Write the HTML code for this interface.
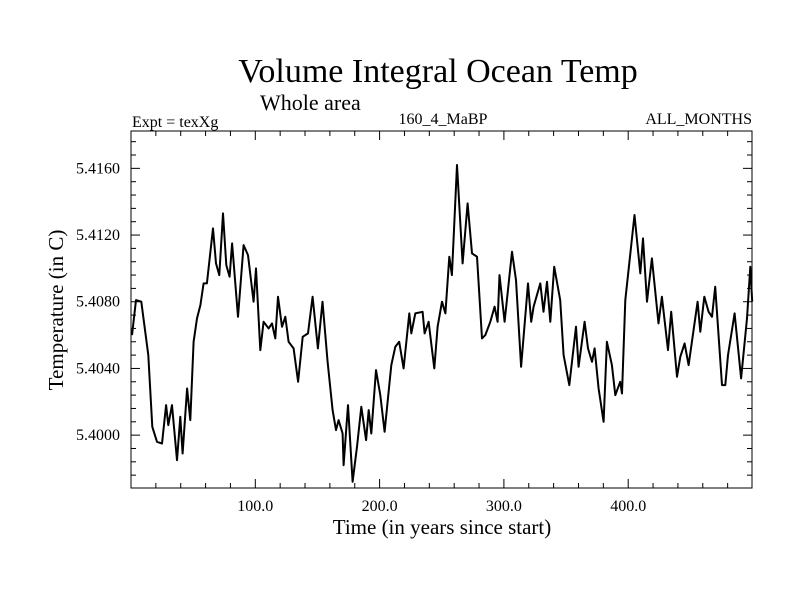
<!DOCTYPE html>
<html><head><meta charset="utf-8"><style>
body{margin:0;background:#fff}
svg text{font-family:"Liberation Serif",serif;fill:#000}
</style></head><body>
<svg id="chart" width="800" height="600" viewBox="0 0 800 600" xmlns="http://www.w3.org/2000/svg">
<text x="438" y="82" font-size="34" text-anchor="middle">Volume Integral Ocean Temp</text>
<text x="260" y="110" font-size="22">Whole area</text>
<text x="132" y="127" font-size="16">Expt = texXg</text>
<text x="443" y="124" font-size="16" text-anchor="middle">160_4_MaBP</text>
<text x="752" y="124" font-size="16" text-anchor="end">ALL_MONTHS</text>
<text x="442" y="534" font-size="21" text-anchor="middle">Time (in years since start)</text>
<text transform="translate(63,310) rotate(-90)" font-size="21" text-anchor="middle">Temperature (in C)</text>
<g id="axes"></g>
<path id="series" fill="none" stroke="#000" stroke-width="2" stroke-linejoin="round"/>
<rect x="131" y="131" width="621" height="357" fill="none" stroke="#000" stroke-width="1"/>
</svg>
<script>
const years=[0.8,4,8.3,13.9,17.1,20.9,24.9,28.2,30,33,37,39.7,41.5,45.1,47.7,50.4,53.1,55.8,58.4,61.1,66,68.4,71,74,76.7,79.3,81.3,86.1,90.6,94.1,98.6,100.6,104,106.7,110.7,113.4,116.1,118.3,121.5,124.1,126.8,130.8,134.4,138.1,142.4,146.1,150.4,154.1,158.2,162.2,164.9,167,170.2,171,174.6,178.3,181.8,185.3,189.1,191.2,193.3,197.1,200.6,204,209.4,212.6,215.8,219.3,223.9,225.5,228.7,234.6,236.2,239.4,244,246.7,250.2,252.9,256.1,258.2,262.3,266.8,270.8,274.3,278.4,282.4,285,289.1,292.5,294.9,296.5,300.6,306.5,309.7,313.8,319.4,322,323.9,329.3,331.9,334.7,337.3,340.5,345.3,348,352.6,358,360.1,364.9,367.7,370.9,373,376.2,380.2,382.9,386.9,389.6,393.6,395,397.7,405.1,409.7,411.9,415.1,419.1,424.4,427.1,432,434.6,439.3,441.9,445.4,448.6,455.8,458,461.2,464.7,467.4,470,475.5,478.1,480.3,485.6,490.8,495.6,498.2,499.8];
const temps=[5.4060,5.4081,5.4080,5.4048,5.4005,5.3996,5.3995,5.4018,5.4006,5.4018,5.3985,5.4011,5.3989,5.4028,5.4009,5.4056,5.4070,5.4078,5.4091,5.4091,5.4124,5.4103,5.4096,5.4133,5.4102,5.4095,5.4115,5.4071,5.4114,5.4108,5.4080,5.4100,5.4051,5.4068,5.4064,5.4067,5.4058,5.4083,5.4065,5.4071,5.4056,5.4052,5.4032,5.4059,5.4061,5.4083,5.4052,5.4080,5.4044,5.4015,5.4003,5.4009,5.4001,5.3982,5.4018,5.3972,5.3993,5.4017,5.3997,5.4015,5.4001,5.4039,5.4024,5.4002,5.4042,5.4053,5.4056,5.4040,5.4073,5.4061,5.4073,5.4074,5.4061,5.4068,5.4040,5.4065,5.4080,5.4073,5.4107,5.4096,5.4162,5.4103,5.4139,5.4109,5.4107,5.4058,5.4060,5.4068,5.4077,5.4068,5.4096,5.4068,5.4110,5.4093,5.4041,5.4091,5.4068,5.4077,5.4091,5.4074,5.4092,5.4068,5.4101,5.4081,5.4048,5.4030,5.4065,5.4041,5.4068,5.4052,5.4044,5.4052,5.4028,5.4008,5.4056,5.4042,5.4024,5.4032,5.4025,5.4081,5.4132,5.4097,5.4118,5.4080,5.4106,5.4067,5.4083,5.4051,5.4074,5.4035,5.4047,5.4055,5.4042,5.4080,5.4062,5.4083,5.4074,5.4071,5.4089,5.4030,5.4030,5.4048,5.4073,5.4034,5.4070,5.4101,5.4080];
const xTickLabels=["100.0","200.0","300.0","400.0"];
const xTickValues=[100,200,300,400];
const yTickLabels=["5.4000","5.4040","5.4080","5.4120","5.4160"];
const yTickValues=[5.4000,5.4040,5.4080,5.4120,5.4160];
const X0=131,X1=752,Y0=131,Y1=488,XMIN=0,XMAX=499.6,YMIN=5.39683,YMAX=5.41824;
function sx(v){return X0+(v-XMIN)/(XMAX-XMIN)*(X1-X0);}
function sy(v){return Y1-(v-YMIN)/(YMAX-YMIN)*(Y1-Y0);}
const NS="http://www.w3.org/2000/svg";
const axes=document.getElementById('axes');
function line(x1,y1,x2,y2,name){const l=document.createElementNS(NS,'line');l.setAttribute('x1',x1);l.setAttribute('y1',y1);l.setAttribute('x2',x2);l.setAttribute('y2',y2);l.setAttribute('stroke','#000');l.setAttribute('stroke-width','1');


axes.appendChild(l);}
function txt(x,y,s,anchor,name){const t=document.createElementNS(NS,'text');t.setAttribute('x',x);t.setAttribute('y',y);t.setAttribute('font-size','16');t.setAttribute('text-anchor',anchor);t.textContent=s;


axes.appendChild(t);}
for(let v=20;v<XMAX;v+=20){const x=sx(v);const major=Math.abs(v%100)<1e-6;const L=major?9:5;
line(x,Y1,x,Y1-L,'x-tick');line(x,Y0,x,Y0+L,'x-tick-top');}
for(let v=5.3976;v<YMAX;v+=0.0008){const y=sy(v);const major=Math.abs(Math.round(v*10000)%40)<1;const L=major?9:5;
line(X0,y,X0+L,y,'y-tick');line(X1,y,X1-L,y,'y-tick-right');}
xTickValues.forEach((v,i)=>txt(sx(v),511,xTickLabels[i],'middle','x-tick-label'));
yTickValues.forEach((v,i)=>txt(120,sy(v)+5,yTickLabels[i],'end','y-tick-label'));
document.getElementById('series').setAttribute('d',years.map((v,i)=>(i?'L':'M')+sx(v).toFixed(1)+','+sy(temps[i]).toFixed(1)).join(''));
</script>
</body></html>
